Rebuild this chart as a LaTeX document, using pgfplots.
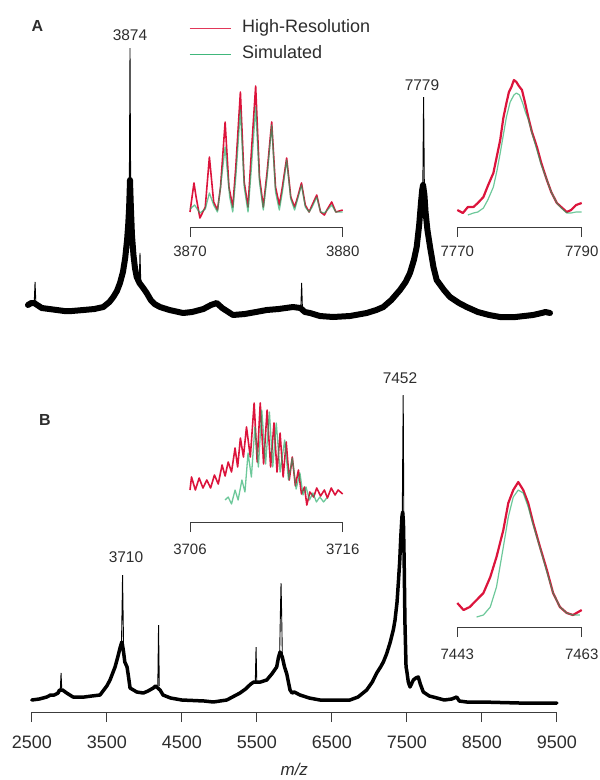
\documentclass[border=0pt]{standalone}
\usepackage{pgfplots}
\pgfplotsset{compat=1.18}
\usepackage{fontspec}
\setmainfont{Liberation Sans}
\definecolor{hr}{RGB}{220,20,60}
\definecolor{sim}{RGB}{30,170,100}
\definecolor{axgray}{RGB}{60,60,60}
\definecolor{txt}{RGB}{45,45,45}
\pgfplotsset{
  base/.style={scale only axis, clip=false, anchor=south west,
    axis y line=none, axis x line=bottom,
    x axis line style={-, axgray, line width=0.8pt},
    tick style={axgray, line width=0.8pt}, tick align=outside,
    major tick length=10pt, minor tick num=0,
    /pgf/number format/assume math mode=true},
  inset/.style={base, xticklabel style={font=\fontsize{15}{18}\selectfont, text=txt, yshift=-5pt}},
}
\begin{document}
\begin{tikzpicture}
\path[use as bounding box] (0pt,0pt) rectangle (600pt,-780pt);

% ---------------- Panel A main spectrum
\begin{axis}[hide axis, scale only axis, clip=false, anchor=south west,
  at={(26.7pt,-330pt)}, width=526.3pt, height=330pt,
  xmin=2500, xmax=9500, ymin=0, ymax=330]
\addplot[black, line width=6pt, line join=round, line cap=round] coordinates {
(2517,25)(2560,27)(2600,27)(2700,22)(2800,21)(2900,20)(3000,19)(3100,19)
(3253,20)(3400,21)(3519,23)(3600,28)(3652,33)(3700,39)(3741,47)(3780,58)
(3810,72)(3835,90)(3850,105)(3862,122)(3870,140)(3874,150)(3878,140)
(3886,122)(3900,95)(3920,75)(3940,62)(3963,53)(4000,47)(4050,42)(4096,37)
(4150,30)(4200,26)(4273,23)(4400,20)(4579,17)(4700,18)(4850,21)(4950,25)
(5027,27)(5100,22)(5244,15)(5400,16)(5550,18)(5692,20)(5850,21)(6042,23)
(6140,22)(6200,18)(6268,17)(6400,14)(6574,13)(6800,14)(7022,17)(7150,20)
(7243,23)(7350,30)(7465,40)(7540,48)(7598,57)(7650,70)(7687,83)(7720,105)
(7745,128)(7760,140)(7772,145)(7790,135)(7805,118)(7830,100)(7865,83)
(7910,63)(7953,50)(8050,40)(8130,33)(8250,27)(8352,23)(8500,18)(8650,15)
(8796,13)(9000,13)(9234,15)(9350,17)(9400,18)(9460,17)};
\addplot[black, line width=0.9pt] coordinates {(3864,130)(3871,230)(3874,282)(3877,230)(3884,130)};
\addplot[black, line width=0.9pt] coordinates {(7768,140)(7775,200)(7779,233)(7783,200)(7790,135)};
\addplot[black, line width=0.9pt] coordinates {(2600,27)(2611,48)(2622,27)};
\addplot[black, line width=0.9pt] coordinates {(3996,47)(4007,77)(4018,45)};
\addplot[black, line width=0.9pt] coordinates {(6146,22)(6157,47)(6168,20)};
\end{axis}

% ---------------- Inset A1
\begin{axis}[inset, at={(190pt,-227pt)}, width=152.7pt, height=150pt,
  xmin=3870, xmax=3880, ymin=0, ymax=150,
  xtick={3870,3880}, xticklabels={3870,3880},
  legend style={at={(axis description cs:-0.0065,1.24)}, anchor=west,
    draw=none, fill=none, inner sep=0pt, row sep=9pt,
    font=\fontsize{18}{21}\selectfont, text=txt,
    nodes={inner sep=0pt, text height=13pt, text depth=4pt}},
  legend cell align=left,
  legend image code/.code={\draw[#1, line width=1pt, opacity=0.85] (0pt,0pt) -- (41pt,0pt);},
  /tikz/every odd column/.append style={column sep=11pt}]
\addplot[color=hr, line width=1.6pt, line join=round] coordinates {
(3870.0,15)(3870.26,44)(3870.4,30)(3870.65,9)(3871.0,20)(3871.27,70)(3871.55,25)
(3871.8,17)(3872.0,40)(3872.3,105)(3872.55,40)(3872.8,20)(3873.0,60)(3873.3,135)
(3873.55,45)(3873.8,20)(3874.0,70)(3874.3,141)(3874.55,50)(3874.8,20)(3875.05,55)
(3875.35,105)(3875.6,40)(3875.85,22)(3876.05,40)(3876.33,69)(3876.6,30)(3876.85,20)
(3877.05,30)(3877.3,44)(3877.55,22)(3877.8,15)(3878.0,22)(3878.3,32)(3878.55,15)
(3878.8,12)(3879.0,18)(3879.28,25)(3879.55,15)(3880.0,17)};
\addlegendentry{High-Resolution}
\addplot[color=sim, line width=1.3pt, opacity=0.65, line join=round] coordinates {
(3870.0,18)(3870.3,22)(3870.65,14)(3871.0,18)(3871.27,34)(3871.55,22)(3871.8,15)
(3872.0,40)(3872.3,80)(3872.6,30)(3872.8,15)(3873.0,50)(3873.3,117)(3873.55,40)
(3873.8,15)(3874.0,55)(3874.3,120)(3874.55,45)(3874.8,17)(3875.05,50)(3875.35,102)
(3875.6,35)(3875.85,17)(3876.05,35)(3876.33,67)(3876.6,28)(3876.85,17)(3877.05,28)
(3877.3,42)(3877.55,20)(3877.8,15)(3878.0,20)(3878.3,30)(3878.55,15)(3878.8,14)
(3879.0,17)(3879.28,22)(3879.55,15)(3880.0,15)};
\addlegendentry{Simulated}
\end{axis}

% ---------------- Inset A2
\begin{axis}[inset, at={(457.3pt,-227pt)}, width=124.4pt, height=150pt,
  xmin=7770, xmax=7790, ymin=0, ymax=150,
  xtick={7770,7790}, xticklabels={7770,7790}]
\addplot[color=hr, line width=2.2pt, line join=round] coordinates {
(7770.0,17)(7770.9,14)(7771.7,20)(7772.6,20)(7773.3,24)(7774.2,30)(7774.9,41)
(7775.8,54)(7776.4,72)(7776.9,87)(7777.4,109)(7777.9,124)(7778.3,135)(7778.7,140)
(7779.1,147)(7779.5,145)(7779.9,141)(7780.4,137)(7780.9,124)(7781.4,110)(7782.0,95)
(7782.8,80)(7783.5,64)(7784.4,47)(7785.1,35)(7786.0,24)(7786.7,20)(7787.6,15)
(7788.3,17)(7789.1,22)(7790.0,24)};
\addplot[color=sim, line width=1.2pt, opacity=0.65, line join=round] coordinates {
(7771.7,12)(7772.6,14)(7773.3,15)(7774.2,19)(7774.9,27)(7775.8,40)(7776.4,57)
(7776.9,74)(7777.4,92)(7777.9,110)(7778.5,125)(7779.1,132)(7779.5,134)(7780.0,132)
(7780.5,124)(7781.0,114)(7781.4,108)(7782.0,94)(7782.8,77)(7783.5,62)(7784.4,47)
(7785.1,35)(7786.0,24)(7786.7,19)(7787.6,14)(7788.3,14)(7789.1,15)(7790.0,15)};
\end{axis}

% ---------------- Panel B main spectrum
\begin{axis}[base, at={(31.8pt,-712pt)}, width=525pt, height=340pt,
  xmin=2500, xmax=9500, ymin=0, ymax=340,
  xtick={2500,3500,4500,5500,6500,7500,8500,9500},
  xticklabels={2500,3500,4500,5500,6500,7500,8500,9500},
  xticklabel style={font=\fontsize{18}{21}\selectfont, text=txt, yshift=-10pt},
  xlabel={\textit{m/z}},
  xlabel style={at={(axis description cs:0.5,-0.17)}, anchor=center,
    font=\fontsize{17}{20}\selectfont, text=txt}]
\addplot[black, line width=3.5pt, line join=round, line cap=round] coordinates {
(2500,12)(2600,13)(2700,15)(2750,17)(2800,17)(2850,19)(2870,22)(2910,22)(2965,19)
(3050,15)(3200,15)(3300,16)(3410,17)(3500,26)(3543,32)(3610,45)(3650,56)(3680,65)
(3700,70)(3720,62)(3740,50)(3770,45)(3790,35)(3810,24)(3900,20)(3987,19)(4050,21)
(4120,24)(4150,26)(4210,22)(4250,17)(4350,14)(4500,12)(4800,11)(4920,10)(5100,12)
(5276,19)(5350,23)(5420,28)(5460,30)(5500,30)(5550,30)(5632,32)(5700,38)(5765,45)
(5790,55)(5810,60)(5840,55)(5870,45)(5900,38)(5943,22)(5970,19)(6000,20)(6076,17)
(6200,14)(6342,12)(6500,12)(6742,12)(6850,15)(6965,22)(7040,30)(7099,39)(7150,45)
(7187,50)(7230,58)(7276,69)(7320,82)(7343,92)(7370,110)(7387,129)(7405,150)
(7420,175)(7435,195)(7445,200)(7455,190)(7465,150)(7475,90)(7490,45)(7498,42)
(7520,30)(7543,25)(7587,32)(7620,34)(7653,35)(7680,28)(7720,20)(7800,16)(7853,15)
(8000,12)(8100,13)(8165,15)(8200,11)(8300,10)(8500,10)(9000,9)(9500,9)};
\addplot[black, line width=0.9pt] coordinates {(3695,65)(3705,110)(3710,137)(3715,110)(3725,60)};
\addplot[black, line width=0.9pt] coordinates {(4180,26)(4190,87)(4200,26)};
\addplot[black, line width=0.9pt] coordinates {(5480,30)(5490,65)(5500,30)};
\addplot[black, line width=0.9pt] coordinates {(5805,60)(5815,100)(5823,129)(5831,100)(5841,55)};
\addplot[black, line width=0.9pt] coordinates {(2880,22)(2890,39)(2900,22)};
\addplot[black, line width=0.9pt] coordinates {(7440,200)(7448,280)(7452,317)(7456,260)(7462,160)};
\end{axis}

% ---------------- Inset B1
\begin{axis}[inset, at={(190pt,-522pt)}, width=152.7pt, height=130pt,
  xmin=3706, xmax=3716, ymin=0, ymax=130,
  xtick={3706,3716}, xticklabels={3706,3716},
  xticklabel style={yshift=-3pt}]
\addplot[color=hr, line width=1.6pt, line join=round] coordinates {
(3706.0,32)(3706.1,45)(3706.35,32)(3706.6,44)(3706.85,34)(3707.1,42)(3707.35,34)
(3707.6,47)(3707.85,38)(3708.1,57)(3708.3,46)(3708.5,60)(3708.72,50)(3708.95,74)
(3709.12,55)(3709.3,84)(3709.5,65)(3709.7,95)(3709.95,65)(3710.2,119)(3710.4,60)
(3710.6,119)(3710.82,58)(3711.05,112)(3711.28,55)(3711.5,99)(3711.7,50)(3711.9,89)
(3712.1,45)(3712.3,80)(3712.5,42)(3712.7,65)(3712.9,36)(3713.1,52)(3713.3,28)
(3713.5,35)(3713.65,17)(3713.85,30)(3714.1,25)(3714.3,34)(3714.55,26)(3714.8,32)
(3715.0,24)(3715.25,34)(3715.5,27)(3715.7,32)(3716.0,28)};
\addplot[color=sim, line width=1.3pt, opacity=0.65, line join=round] coordinates {
(3708.3,22)(3708.5,25)(3708.72,18)(3708.95,32)(3709.15,22)(3709.4,42)(3709.6,30)
(3709.8,69)(3710.02,45)(3710.25,95)(3710.48,55)(3710.7,112)(3710.95,58)(3711.2,110)
(3711.42,55)(3711.65,99)(3711.9,50)(3712.2,82)(3712.45,42)(3712.7,64)(3712.95,33)
(3713.2,49)(3713.4,27)(3713.6,35)(3713.82,22)(3714.05,29)(3714.28,20)(3714.5,25)
(3714.75,20)(3714.95,24)};
\end{axis}

% ---------------- Inset B2
\begin{axis}[inset, at={(457.3pt,-627pt)}, width=124.4pt, height=160pt,
  xmin=7443, xmax=7463, ymin=0, ymax=160,
  xtick={7443,7463}, xticklabels={7443,7463},
  xticklabel style={yshift=-3pt}]
\addplot[color=hr, line width=2.2pt, line join=round] coordinates {
(7443.0,24)(7444.0,17)(7445.0,20)(7446.1,27)(7447.2,34)(7448.3,50)(7449.3,70)
(7450.4,97)(7451.2,124)(7452.0,137)(7452.8,145)(7453.6,137)(7454.4,124)(7455.2,104)
(7456.3,80)(7457.4,57)(7458.4,34)(7459.5,20)(7460.6,14)(7461.6,12)(7463.0,17)};
\addplot[color=sim, line width=1.2pt, opacity=0.65, line join=round] coordinates {
(7446.1,10)(7447.2,12)(7448.3,20)(7449.3,40)(7450.4,80)(7451.2,110)(7452.0,130)
(7452.8,137)(7453.6,134)(7454.4,120)(7455.2,102)(7456.3,79)(7457.4,55)(7458.4,34)
(7459.5,20)(7460.6,14)(7461.6,12)(7462.7,12)};
\end{axis}

% ---------------- Labels
\node[font=\bfseries\fontsize{16}{19}\selectfont, text=txt] at (37.3pt,-26pt) {A};
\node[font=\bfseries\fontsize{16}{19}\selectfont, text=txt] at (45pt,-420pt) {B};
\node[font=\fontsize{15.5}{18}\selectfont, text=txt] at (130pt,-35pt) {3874};
\node[font=\fontsize{15.5}{18}\selectfont, text=txt] at (422pt,-85pt) {7779};
\node[font=\fontsize{15.5}{18}\selectfont, text=txt] at (400pt,-378pt) {7452};
\node[font=\fontsize{15.5}{18}\selectfont, text=txt] at (126pt,-557pt) {3710};
\end{tikzpicture}
\end{document}
